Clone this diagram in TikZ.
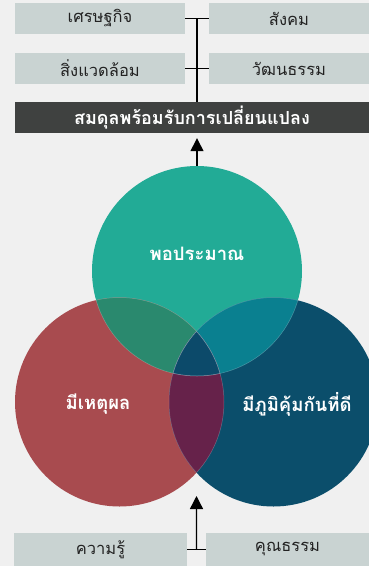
\documentclass[tikz,border=0pt]{standalone}
\usepackage{fontspec}
\newfontfamily\thai[Script=Thai]{Loma}
\usetikzlibrary{arrows.meta,calc}
\definecolor{bg}{HTML}{F0F0F0}
\definecolor{boxc}{HTML}{C9D3D2}
\definecolor{barc}{HTML}{3F4140}
\definecolor{txt}{HTML}{222222}
\definecolor{cg}{HTML}{22AB96}
\definecolor{cr}{HTML}{A84B4F}
\definecolor{cb}{HTML}{0B4E6B}
\definecolor{cgr}{HTML}{2A896E}
\definecolor{cgb}{HTML}{0A8090}
\definecolor{crb}{HTML}{66224A}
\definecolor{ctri}{HTML}{0C4A6A}
\tikzset{
  lbox/.style={rectangle, fill=boxc, inner sep=0pt, minimum height=31pt, text=txt, font=\thai\fontsize{16.5}{19}\selectfont},
  darkbar/.style={rectangle, fill=barc, inner sep=0pt, minimum height=31pt, text=white, font=\thai\bfseries\fontsize{18}{21}\selectfont},
  circlab/.style={text=white, font=\thai\bfseries\fontsize{18.5}{21}\selectfont, inner sep=0pt},
  conn/.style={line width=1.4pt, black},
  arr/.style={line width=1.4pt, black, -{Triangle[width=13pt,length=13pt]}},
  venn/.style={circle, inner sep=0pt, minimum size=#1}
}
\begin{document}
\begin{tikzpicture}[x=1pt,y=-1pt]
\useasboundingbox (0,0) rectangle (369,566);
\fill[bg] (0,0) rectangle (369,566);
\clip (0,0) rectangle (369,566);
% top boxes
\node[lbox, minimum width=170pt] (b1) at (100,18.5) {เศรษฐกิจ};
\node[lbox, minimum width=160pt] (b2) at (289,18.5) {สังคม};
\node[lbox, minimum width=170pt] (b3) at (100,68.5) {สิ่งแวดล้อม};
\node[lbox, minimum width=160pt] (b4) at (289,68.5) {วัฒนธรรม};
\node[darkbar, minimum width=354pt] (bar) at (192,117.5) {สมดุลพร้อมรับการเปลี่ยนแปลง};
\draw[conn] (b1.east) -- (b2.west);
\draw[conn] (b3.east) -- (b4.west);
\coordinate (j1) at ($(b1.east)!0.5!(b2.west)$);
\draw[conn] (j1) -- (j1 |- bar.north);
% circles
\node[venn=210pt, fill=cg] (T) at (197,271) {};
\node[venn=209pt, fill=cr] (R) at (119.5,402) {};
\node[venn=209pt, fill=cb] (B) at (273.5,402) {};
\begin{scope}
  \clip (T.center) circle (105pt);
  \fill[cgr] (R.center) circle (104.5pt);
  \fill[cgb] (B.center) circle (104.5pt);
\end{scope}
\begin{scope}
  \clip (R.center) circle (104.5pt);
  \fill[crb] (B.center) circle (104.5pt);
\end{scope}
\begin{scope}
  \clip (T.center) circle (105pt);
  \clip (R.center) circle (104.5pt);
  \fill[ctri] (B.center) circle (104.5pt);
\end{scope}
\begin{scope}[white, opacity=0.25, line width=0.5pt]
  \begin{scope}
    \clip (T.center) circle (105pt);
    \draw (R.center) circle (104.5pt);
    \draw (B.center) circle (104.5pt);
  \end{scope}
  \begin{scope}
    \clip (R.center) circle (104.5pt);
    \draw (T.center) circle (105pt);
    \draw (B.center) circle (104.5pt);
  \end{scope}
  \begin{scope}
    \clip (B.center) circle (104.5pt);
    \draw (T.center) circle (105pt);
    \draw (R.center) circle (104.5pt);
  \end{scope}
\end{scope}
\node[circlab] (lt) at (197,254) {พอประมาณ};
\node[circlab] (lr) at (98,404) {มีเหตุผล};
\node[circlab] (lb) at (297,404) {มีภูมิคุ้มกันที่ดี};
\draw[arr, shorten >=5pt] (T.north) -- (T.north |- bar.south);
% bottom boxes
\node[lbox, minimum width=173pt, minimum height=33pt] (k1) at (100.5,549.5) {ความรู้};
\node[lbox, minimum width=163pt, minimum height=33pt] (k2) at (287.5,549.5) {คุณธรรม};
\draw[conn] (k1.east) -- (k2.west);
\coordinate (jb) at ($(k1.east)!0.5!(k2.west)$);
\coordinate (tb) at (196.5,496);
\draw[arr] (jb) -- (tb);
\end{tikzpicture}
\end{document}
